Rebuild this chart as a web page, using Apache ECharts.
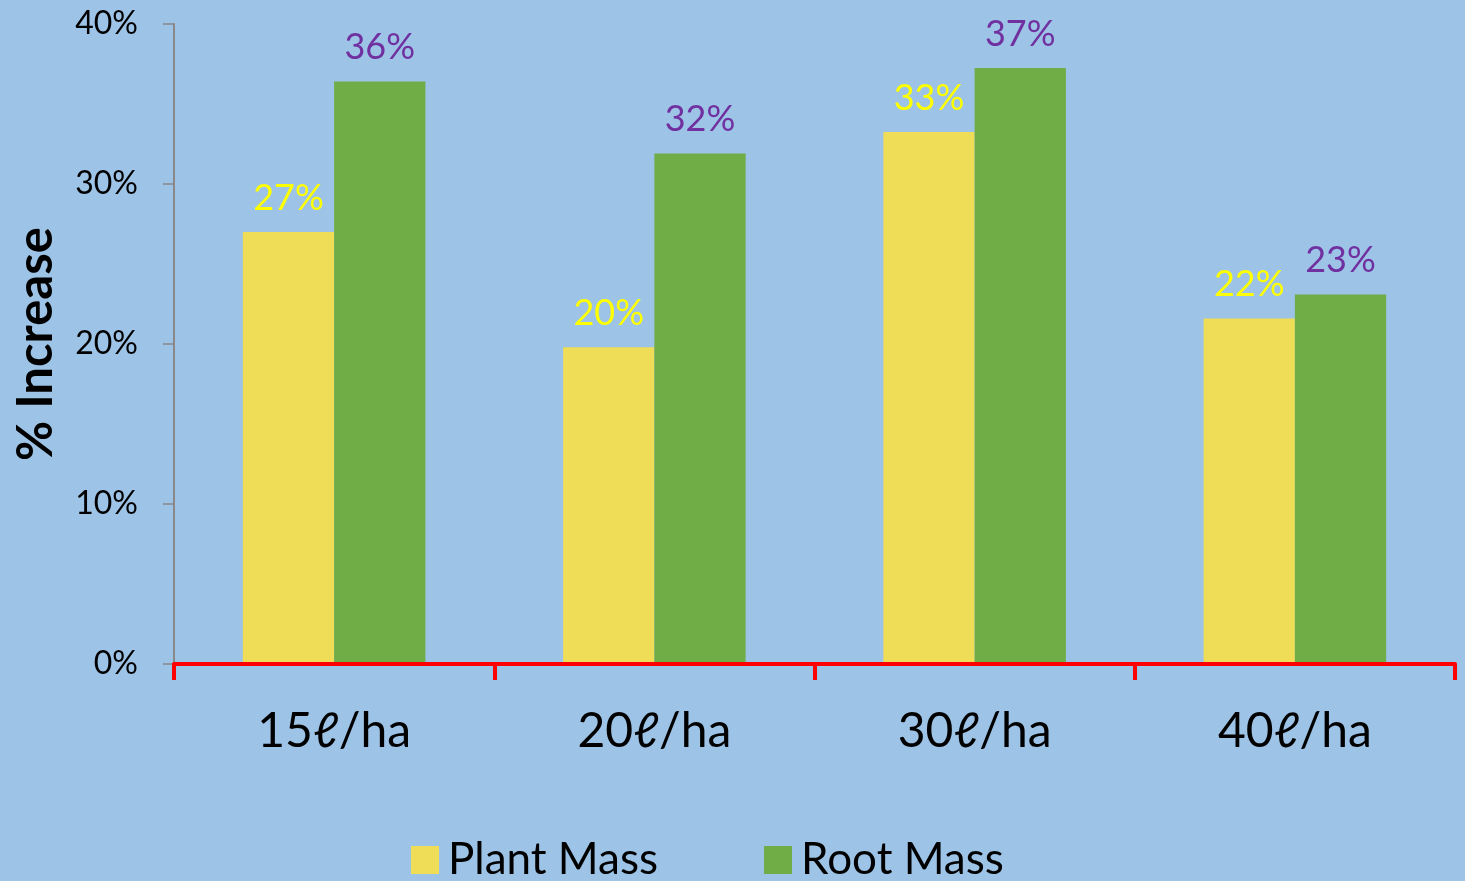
<!DOCTYPE html>
<html>
<head>
<meta charset="utf-8">
<script src="https://cdn.jsdelivr.net/npm/echarts@6/dist/echarts.min.js"></script>
<style>
  html, body { margin: 0; padding: 0; background: #9DC3E6; }
  #chart { width: 1465px; height: 881px; }
</style>
</head>
<body>
<div id="chart"></div>
<script>
// Application rates on the category axis
const categories = ['15ℓ/ha', '20ℓ/ha', '30ℓ/ha', '40ℓ/ha'];
// Percentage increase per rate
const plantMass = [27.0, 19.8, 33.25, 21.6];
const rootMass = [36.4, 31.9, 37.25, 23.1];
// Value-axis range and step (percent)
const yMin = 0;
const yMax = 40;
const yStep = 10;

const FONT = 'Lato, "Open Sans", "Noto Sans", sans-serif';

const chart = echarts.init(document.getElementById('chart'));

const labelFor = (color) => ({
  show: true,
  position: 'top',
  distance: 16,
  color: color,
  fontFamily: FONT,
  fontSize: 36,
  formatter: (p) => Math.round(p.value) + '%'
});

chart.setOption({
  backgroundColor: '#9DC3E6',
  animation: false,
  textStyle: { fontFamily: FONT },
  grid: { left: 174, right: 10, top: 24, bottom: 217 },
  legend: {
    bottom: -6,
    left: 406,
    itemWidth: 28,
    itemHeight: 28,
    itemGap: 106,
    icon: 'rect',
    textStyle: { fontFamily: FONT, fontSize: 44, color: '#000', padding: [0, 0, 0, 4] },
    data: ['Plant Mass', 'Root Mass']
  },
  xAxis: {
    type: 'category',
    data: categories,
    axisLine: { show: true, lineStyle: { color: '#FF0000', width: 4 } },
    axisTick: { show: true, length: 16, lineStyle: { color: '#FF0000', width: 4 } },
    axisLabel: { color: '#000', fontFamily: FONT, fontSize: 48, margin: 44 },
    z: 5
  },
  yAxis: {
    type: 'value',
    min: yMin,
    max: yMax,
    interval: yStep,
    name: '% Increase',
    nameLocation: 'middle',
    nameGap: 113,
    nameTextStyle: { fontFamily: FONT, fontSize: 49, fontWeight: 'bold', color: '#000' },
    axisLine: { show: true, lineStyle: { color: '#888888', width: 2 } },
    axisTick: { show: true, length: 11, lineStyle: { color: '#888888', width: 1.5 } },
    axisLabel: { color: '#000', fontFamily: FONT, fontSize: 32, margin: 36, formatter: '{value}%' },
    splitLine: { show: false }
  },
  series: [
    {
      name: 'Plant Mass',
      type: 'bar',
      data: plantMass,
      barGap: '0%',
      barCategoryGap: '43%',
      itemStyle: { color: '#EFDD58' },
      label: labelFor('#FFFF00')
    },
    {
      name: 'Root Mass',
      type: 'bar',
      data: rootMass,
      barGap: '0%',
      barCategoryGap: '43%',
      itemStyle: { color: '#70AD47' },
      label: labelFor('#7030A0')
    }
  ]
});
</script>
</body>
</html>
